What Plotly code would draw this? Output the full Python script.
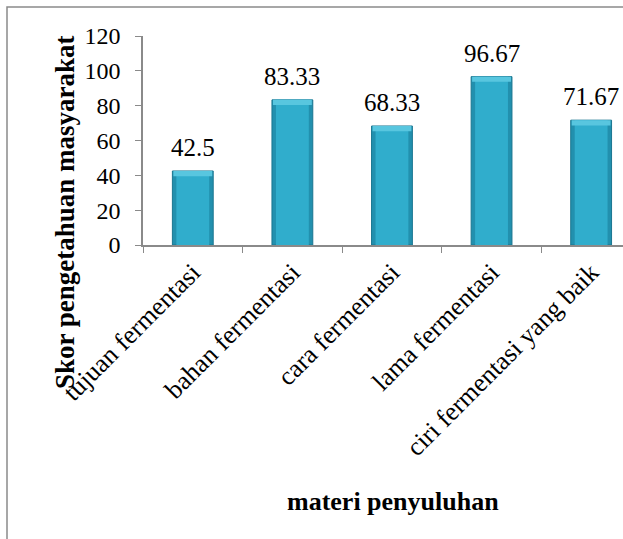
import plotly.graph_objects as go

categories = ["tujuan fermentasi", "bahan fermentasi", "cara fermentasi",
              "lama fermentasi", "ciri fermentasi yang baik"]
values = [42.5, 83.33, 68.33, 96.67, 71.67]
value_labels = ["42.5", "83.33", "68.33", "96.67", "71.67"]
y_ticks = [0, 20, 40, 60, 80, 100, 120]

FONT = "Liberation Serif"
W, H = 623, 539
L, R, T, B = 143, 0, 36, 294
pw, ph = W - L - R, H - T - B
BEVEL = 3.0  # data units of the light top cap

def px_x(px):
    return (px - L) / pw

def px_y(py):
    return (H - B - py) / ph

fig = go.Figure()
fig.add_trace(go.Bar(
    x=categories, y=values, width=0.41,
    marker=dict(color="#2290ae", line=dict(color="#1a7690", width=1)),
    hoverinfo="skip", showlegend=False,
))
fig.add_trace(go.Bar(
    x=categories, y=values, width=0.33,
    marker=dict(color="#30adcc", line=dict(width=0)),
    hoverinfo="skip", showlegend=False,
))
fig.add_trace(go.Bar(
    x=categories, y=[BEVEL] * len(values), base=[v - BEVEL for v in values],
    width=0.39,
    marker=dict(color="#58c6df", line=dict(width=0)),
    hoverinfo="skip", showlegend=False,
))

for c, v, t in zip(categories, values, value_labels):
    fig.add_annotation(x=c, y=v, text=t, showarrow=False, yanchor="bottom",
                       yshift=8, font=dict(family=FONT, size=25, color="black"))

fig.add_annotation(x=px_x(65), y=px_y(212), xref="paper", yref="paper",
                   xanchor="center", yanchor="middle",
                   text="<b>Skor pengetahuan masyarakat</b>", textangle=-90,
                   showarrow=False, font=dict(family=FONT, size=27, color="black"))
fig.add_annotation(x=px_x(393), y=px_y(501), xref="paper", yref="paper",
                   xanchor="center", yanchor="middle",
                   text="<b>materi penyuluhan</b>", showarrow=False,
                   font=dict(family=FONT, size=26, color="black"))

fig.add_shape(type="rect", xref="paper", yref="paper",
              x0=px_x(7), x1=px_x(640), y0=px_y(560), y1=px_y(7),
              line=dict(color="#8a8a8a", width=1.5), fillcolor="rgba(0,0,0,0)")

fig.update_layout(
    width=W, height=H, margin=dict(l=L, r=R, t=T, b=B),
    paper_bgcolor="white", plot_bgcolor="white",
    barmode="overlay",
    font=dict(family=FONT, color="black"),
    xaxis=dict(
        type="category", range=[-0.5, 4.32], tickangle=-45,
        tickson="boundaries", ticks="outside", ticklen=6, tickcolor="#8a8a8a",
        showline=True, linecolor="#8a8a8a", linewidth=1.5, showgrid=False,
        tickfont=dict(family=FONT, size=26, color="black"),
    ),
    yaxis=dict(
        range=[0, 120], tickvals=y_ticks, ticks="outside", ticklen=6,
        tickcolor="#8a8a8a", showline=True, linecolor="#8a8a8a", linewidth=1.5,
        showgrid=False, zeroline=False, ticklabelstandoff=10,
        tickfont=dict(family=FONT, size=24, color="black"),
    ),
)

fig.write_html("out.html", config={"displayModeBar": False},
               post_script="document.body.style.margin='0';document.body.style.overflow='hidden';")
